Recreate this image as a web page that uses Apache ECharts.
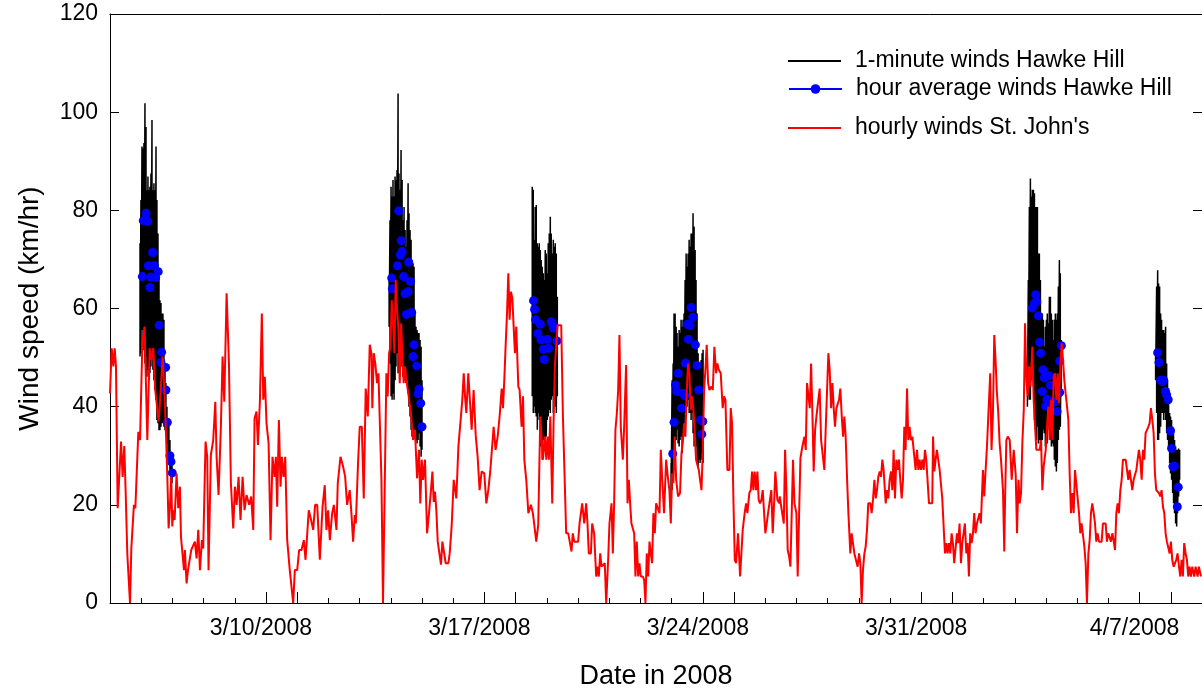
<!DOCTYPE html>
<html>
<head>
<meta charset="utf-8">
<script src="https://cdn.jsdelivr.net/npm/echarts@6.0.0/dist/echarts.min.js"></script>
<style>
html,body{margin:0;padding:0;background:#fff;}
#chart{width:1202px;height:696px;}
</style>
</head>
<body>
<div id="chart"></div>
<script>
// x values are hours since 3/5/2008 00:00
const seriesNames = ['1-minute winds Hawke Hill', 'hour average winds Hawke Hill', "hourly winds St. John's"];
const tickLabels = ['3/10/2008', '3/17/2008', '3/24/2008', '3/31/2008', '4/7/2008'];
const tickLabelHours = [120, 288, 456, 624, 792];
const majorTickHours = [120, 144, 288, 312, 456, 480, 624, 648, 792, 816];

// 1-minute winds Hawke Hill: [hour, upper, lower] of the fast oscillation
const minuteBand1 = [[23.1,73.3,50.2],[23.8,82.1,50.9],[24.6,93.0,55.6],[25.4,92.6,53.6],[26.1,93.7,51.5],[26.9,101.8,48.8],[27.7,97.0,50.2],[28.4,84.1,46.1],[29.2,86.9,47.5],[30.0,84.1,45.4],[30.7,84.8,46.8],[31.5,87.5,48.2],[32.3,98.4,50.2],[33.0,84.1,47.5],[33.8,85.5,45.4],[34.6,84.1,43.4],[35.4,93.0,41.4],[36.1,82.1,37.3],[36.9,75.3,36.6],[37.7,66.5,35.2],[38.4,61.7,35.2],[39.2,61.1,35.9],[40.0,59.0,36.6],[40.7,59.0,36.6],[41.5,57.7,35.9],[42.3,48.2,35.2],[43.0,44.8,34.5],[43.8,40.0,32.5],[44.6,37.3,29.8],[45.3,36.6,28.5],[46.1,33.2,26.4],[46.9,30.5,25.1],[47.7,29.1,24.4]];
const minuteBand2 = [[214.7,65.8,56.3],[215.4,78.0,48.8],[216.2,84.8,42.1],[217.0,82.8,41.4],[217.7,86.2,42.7],[218.5,82.8,41.4],[219.3,86.9,45.4],[220.0,86.2,48.2],[220.8,88.2,50.9],[221.6,103.8,46.8],[222.3,87.5,48.8],[223.1,84.2,46.8],[223.9,92.3,48.2],[224.7,86.2,50.2],[225.4,78.0,46.1],[226.2,80.7,48.2],[227.0,76.0,45.4],[227.7,72.6,44.8],[228.5,78.0,45.4],[229.3,85.5,42.7],[230.0,79.4,40.0],[230.8,76.0,38.0],[231.6,74.0,35.3],[232.3,69.9,33.9],[233.1,69.2,33.9],[233.9,68.5,35.3],[234.6,59.0,34.6],[235.4,56.3,33.2],[236.2,55.6,32.5],[237.0,55.0,33.2],[237.7,55.0,34.6],[238.5,53.6,31.9],[239.3,52.2,29.8],[240.0,45.4,31.2]];
const minuteBand3 = [[324.8,84.8,42.1],[325.6,84.2,38.7],[326.4,74.0,40.0],[327.1,80.7,38.7],[327.9,81.1,38.0],[328.7,73.3,35.3],[329.4,72.6,38.7],[330.2,73.3,37.3],[331.0,71.9,31.9],[331.7,69.9,35.3],[332.5,68.5,29.2],[333.3,67.2,33.2],[334.1,65.8,31.9],[334.8,71.9,33.2],[335.6,71.2,33.9],[336.4,67.2,37.3],[337.1,73.3,38.0],[337.9,75.3,39.3],[338.7,78.7,38.7],[339.4,75.3,41.4],[340.2,71.2,42.1],[341.0,74.0,38.7],[341.7,72.6,41.4],[342.5,73.3,40.0],[343.3,71.2,38.7],[344.1,62.4,42.1]];
const minuteBand4 = [[431.6,28.5,22.4],[432.4,45.4,23.0],[433.2,48.8,25.1],[433.9,59.0,28.5],[434.7,59.0,31.9],[435.5,56.3,33.2],[436.2,55.0,35.3],[437.0,52.2,32.5],[437.8,55.6,31.9],[438.5,55.0,33.2],[439.3,57.7,33.9],[440.1,56.3,30.5],[440.8,57.7,33.2],[441.6,59.0,35.3],[442.4,65.8,38.7],[443.2,71.2,40.0],[443.9,68.5,40.0],[444.7,71.2,41.4],[445.5,74.0,38.7],[446.2,72.6,38.7],[447.0,75.3,37.3],[447.8,75.3,38.7],[448.5,79.4,34.6],[449.3,76.7,31.9],[450.1,71.9,33.2],[450.8,65.8,31.9],[451.6,59.0,28.5],[452.4,50.9,27.8],[453.1,48.8,29.2],[453.9,48.2,28.5],[454.7,49.5,29.2],[455.5,50.9,30.5],[456.2,51.6,28.5]];
const minuteBand5 = [[705.7,48.0,40.0],[706.4,65.8,42.1],[707.2,80.7,41.4],[708.0,86.5,41.4],[708.8,82.8,45.4],[709.5,84.2,52.2],[710.3,84.2,44.1],[711.1,83.5,37.3],[711.8,80.7,35.3],[712.6,80.7,33.2],[713.4,80.7,35.9],[714.1,71.2,32.5],[714.9,71.2,33.2],[715.7,65.8,32.5],[716.4,59.0,31.9],[717.2,59.0,33.2],[718.0,57.7,35.3],[718.7,52.2,34.6],[719.5,56.3,31.9],[720.3,57.7,33.2],[721.0,59.0,32.5],[721.8,57.0,38.7],[722.6,62.4,35.3],[723.4,62.4,33.2],[724.1,59.0,31.9],[724.9,57.7,32.5],[725.7,53.6,31.9],[726.4,57.7,29.2],[727.2,59.0,27.8],[728.0,57.7,26.8],[728.7,59.0,28.5],[729.5,64.5,33.2],[730.3,69.9,35.3],[731.0,67.2,35.9],[731.8,53.6,42.1]];
const minuteBand6 = [[804.3,50.9,45.4],[805.1,64.5,38.7],[805.9,67.8,33.2],[806.6,65.1,33.2],[807.4,64.5,34.6],[808.2,59.0,35.9],[808.9,57.7,38.7],[809.7,55.6,38.7],[810.5,55.6,37.3],[811.2,55.0,38.7],[812.0,56.3,37.3],[812.8,48.8,34.6],[813.5,45.4,33.2],[814.3,42.1,31.2],[815.1,38.7,28.5],[815.8,38.0,26.4],[816.6,37.3,25.1],[817.4,35.9,22.4],[818.1,34.6,20.3],[818.9,33.2,18.3],[819.7,31.9,16.2],[820.5,31.2,15.6],[821.2,31.2,18.3],[822.0,31.5,21.7],[822.8,31.2,25.1]];

// hour average winds Hawke Hill: [hour, value]
const hourAvg1 = [[24.9,66.5],[25.6,77.9],[27.7,79.4],[29.0,77.8],[29.5,68.7],[30.7,64.3],[31.3,66.4],[32.8,71.4],[34.1,68.7],[35.1,66.3],[37.1,67.5],[37.9,56.6],[39.2,49.0],[39.7,51.1],[42.8,48.0],[43.0,43.4],[44.1,36.8],[46.1,30.0],[46.9,28.8],[47.9,26.5]];
const hourAvg2 = [[216.7,66.2],[217.2,64.0],[221.1,68.7],[222.1,79.9],[223.4,70.9],[224.1,73.8],[224.7,71.6],[225.9,66.5],[227.0,63.0],[228.0,58.8],[229.3,63.4],[229.8,69.4],[231.1,65.5],[232.1,59.2],[233.1,50.2],[233.9,52.6],[235.9,48.3],[236.9,42.6],[237.7,43.6],[239.0,40.7],[240.0,35.9]];
const hourAvg3 = [[325.8,61.6],[326.6,59.8],[327.4,57.7],[329.2,54.9],[331.0,56.8],[331.5,53.6],[333.3,51.7],[334.0,49.6],[336.4,53.7],[337.4,51.9],[339.4,57.3],[340.7,56.6],[341.2,56.0],[343.8,53.4]];
const hourAvg4 = [[432.9,30.4],[433.9,36.8],[435.0,44.4],[436.0,43.1],[437.0,46.8],[439.6,39.7],[441.1,42.7],[442.1,42.2],[442.6,48.9],[444.2,56.8],[444.9,53.7],[446.2,56.5],[447.0,60.2],[448.3,58.2],[450.3,52.6],[451.6,48.4],[452.9,43.4],[454.4,37.3],[455.2,34.4],[456.0,37.0]];
const hourAvg5 = [[709.5,60.1],[711.1,61.1],[712.1,62.8],[712.9,61.4],[714.1,58.5],[715.2,53.1],[715.9,50.9],[717.2,43.1],[717.7,47.5],[718.7,45.9],[719.8,40.1],[720.8,41.5],[722.3,46.3],[723.4,44.4],[724.4,40.7],[726.9,41.0],[728.5,39.0],[730.5,42.9],[730.6,49.3],[731.8,52.4]];
const hourAvg6 = [[805.9,51.0],[806.9,49.0],[808.2,45.4],[809.4,45.1],[810.5,45.4],[812.0,43.1],[812.8,42.4],[814.0,41.4],[815.8,35.1],[816.6,31.5],[817.6,27.8],[818.7,27.9],[821.0,19.6],[821.7,23.6]];

// hourly winds St. John's: [hour, value]
const stJohnsA = [[0,42.7],[1.3,51.9],[2.6,48.2],[3.6,51.9],[4.6,48.2],[5.9,19.3],[8.5,32.9],[9.7,25.7],[11,32.0],[12,23.0],[13.3,10.1],[15.4,0],[16.4,11.1],[17.4,11.1],[18.4,20.0],[19.5,19.3],[21.8,34.9],[23.1,33.2],[24.9,52.9],[26.6,56.3],[28.7,33.2],[30.5,51.9],[31.8,49.5],[33.3,51.9],[34.8,43.4],[37.4,37.0],[38.4,40.7],[40.5,50.2],[41.8,43.4],[42.8,36.6],[44.1,25.7],[45.1,15.2],[46.1,19.6],[47.1,25.7],[47.9,15.6],[48.7,18.9],[49.7,16.9],[51.2,26.4],[52.5,19.3],[53.8,23.7],[54.6,13.5],[56.9,6.7],[57.6,10.8],[58.9,4.0],[60,6.7],[61,6.4],[62.5,10.8],[64,11.1],[65.3,12.5],[66.6,9.1],[67.9,14.9],[69.2,6.7],[70.7,12.8],[71.7,11.1],[73.5,32.9],[74.8,29.8],[75.8,6.7],[77.6,30.2],[79.4,33.2],[81,41.0],[82,29.8],[83.5,22.0],[85.3,35.9],[86.6,50.2],[87.9,41.0],[89.7,63.1],[91.5,48.8],[93,24.4],[94.8,15.2],[96.1,23.7],[97.4,20.0],[98.9,25.7],[100.4,16.9],[102,25.7],[103.5,18.9],[105,22.0],[107.1,20.0],[108.6,21.7],[110.2,14.9],[111.2,37.6],[112.7,39.0],[113.8,32.2],[115.3,41.0],[116.8,59.0],[117.9,41.4],[119.1,46.1],[120.4,36.6],[122,32.5],[123.5,12.8],[125,29.8],[126.6,25.7],[127.6,29.8],[128.6,19.6],[129.9,37.3],[131.2,23.7],[132.2,29.8],[133.5,25.7],[134.8,29.8],[136.3,12.8],[138.3,6.7],[139.6,6.7],[140.9,0],[142.2,6.7],[144,6.7],[145.5,10.8],[147.3,10.8],[149.1,12.8],[150.4,8.8],[152.9,18.9],[154.7,16.9],[156.3,14.9],[157.8,20.0],[159.4,20.0],[161.4,8.8],[163.5,19.6],[165.2,24.0],[166.5,14.9],[167.8,18.9],[169.1,12.8],[170.9,18.3],[172.2,20.0],[174.2,14.9],[175.2,24.4],[177.3,29.8],[179.3,27.8],[180.9,25.7],[182.4,20.0]];
const stJohnsB = [[184.4,23.0],[185.7,18.3],[187,12.5],[188.3,17.9],[189.1,16.2],[190.8,28.5],[192.1,35.9],[193.7,35.9],[195.2,21.3],[196.7,43.7],[198.3,38.0],[199.8,52.6],[201.1,50.9],[201.8,39.7],[202.9,50.9],[204.2,48.5],[205.4,44.8],[206.5,46.8],[207.5,46.8],[208.8,25.1],[210,0],[211.3,23.0],[212.6,46.8],[213.6,42.1],[214.7,50.9],[215.7,52.2],[216.7,61.7],[217.7,57.0],[218.8,50.9],[219.8,65.8],[220.8,59.7],[221.8,56.3],[222.9,44.8],[223.9,57.0],[224.9,50.2],[225.9,44.8],[227,48.2],[228,45.4],[230,41.7],[231.6,38.3],[233.1,33.2],[234.6,35.3],[236.2,25.4],[237.7,31.2],[238.7,20.3],[239.8,29.2],[240.8,25.1],[242.3,29.2],[243.9,14.2],[245.4,18.3],[246.9,23.0],[248,26.8],[249,20.6],[250,22.7],[251,19.0],[252.1,12.5],[253.6,12.2],[254.6,7.8],[255.7,12.5],[256.7,12.2],[258.2,8.1],[260.3,8.1],[261.3,10.1],[262.8,15.6],[264.4,25.1],[266.4,21.3],[268,31.9],[269.5,36.6],[271,41.4],[272.1,46.8],[273.1,42.1],[274.1,38.7],[275.6,46.8],[276.7,46.8],[278.2,35.3],[279.7,43.4],[281.3,34.2],[282.8,29.8],[284.3,23.0],[285.9,26.8],[287.9,26.4],[289.5,20.3],[291,23.0],[292.5,26.8],[293.6,27.1],[295.1,35.9],[296.6,31.2],[298.2,33.9],[299.7,38.0],[301.3,43.7],[302.3,39.7],[303.3,45.4],[304.3,52.2],[305.4,59.0],[306.4,67.2],[307.4,57.7],[308.4,63.4],[309.5,62.1],[310.5,56.3],[311.5,50.9],[312.5,56.3],[314.1,44.1],[315.1,43.4],[316.6,35.9],[317.7,42.1],[318.7,29.2],[320.2,25.1],[321.8,18.3],[322.8,17.9],[323.8,20.0],[325.3,18.3],[327.9,12.5],[329.4,15.9],[331,38.0],[332,33.9],[333,29.2],[334.6,33.9],[335.6,29.2],[336.6,33.9],[337.6,29.2],[338.7,38.0],[340.2,20.3],[341.2,36.6],[342.2,48.2],[343.3,48.2],[344.3,56.6],[345.8,56.6],[347.1,56.6]];
const stJohnsC = [[348.4,38.0],[349.4,38.0],[350.9,14.2],[352.5,14.2],[354,14.2],[355,10.5],[356,14.2],[357.1,12.5],[360.1,12.5],[361.2,16.2],[362.2,16.2],[363.2,20.3],[364.8,16.2],[366.3,20.3],[367.3,16.2],[368.3,10.1],[369.9,10.1],[370.9,16.2],[372.4,14.2],[374,5.4],[375,7.4],[376,5.4],[377.1,10.1],[378.1,7.4],[379.6,7.8],[380.6,8.1],[381.7,0],[383.2,8.8],[384.2,16.2],[385.8,20.3],[386.8,10.1],[387.8,20.3],[388.8,35.3],[389.9,38.7],[390.9,43.4],[391.9,54.6],[392.9,35.9],[394.5,29.2],[395.5,35.9],[397,48.5],[398.1,20.3],[399.1,25.1],[400.1,20.3],[401.1,16.2],[402.2,16.2],[403.2,14.2],[404.2,5.4],[405.2,12.5],[406.3,5.4],[407.3,8.1],[408.3,5.4],[409.9,5.4],[410.9,4.7],[411.9,0],[412.9,10.1],[414,5.4],[415,12.5],[416,10.1],[417,8.1],[418,18.3],[419.1,14.2],[420.1,20.3],[421.6,20.3],[422.7,18.3],[423.7,31.2],[424.7,25.7],[426.2,18.3],[427.8,29.2],[428.8,26.4],[430.3,23.0],[431.4,16.2],[432.4,26.4],[433.4,24.4],[434.4,33.9],[435.5,25.1],[437,21.7],[438.5,22.4],[439.6,30.5],[440.6,32.6],[441.6,36.6],[442.6,33.9],[443.7,43.4],[444.7,48.8],[445.7,46.8],[446.7,39.3],[447.8,42.1],[448.8,39.3],[449.8,34.6],[450.8,29.2],[451.9,29.2],[452.9,27.1],[453.9,25.1],[455,23.0],[456,31.2],[457,43.4],[458,47.5],[459,52.6],[460.1,44.8],[461.1,43.4],[462.6,44.1],[463.7,43.4],[464.9,52.2],[466.2,46.8],[467.2,48.8],[468.3,47.5],[469.8,46.8],[471.3,39.7],[472.4,42.1],[473.4,41.4],[474.9,27.1],[476.5,27.1],[477.5,39.7],[478.5,36.6],[479.5,21.7],[480.6,8.8],[481.6,8.1],[483.1,14.2],[484.7,5.4],[485.7,10.1],[486.7,14.9],[488.2,18.3],[489.3,20.3],[490.3,18.3],[491.8,22.4],[492.9,23.0],[493.9,26.8],[494.9,23.0],[495.9,26.8],[497,23.0],[498,26.8],[499,21.0],[500,20.3],[501.1,21.0],[502.1,23.0],[503.1,23.0],[504.1,14.2],[505.2,16.2],[506.2,18.3],[507.2,18.3],[508.7,23.0],[509.8,14.2],[510.8,20.0],[511.8,26.8],[513.4,21.0],[514.9,20.3]];
const stJohnsD = [[515.2,21.7],[516.7,19.0],[518.3,16.2],[519.3,31.2],[520.3,23.0],[521.3,10.8],[522.4,9.5],[523.4,7.4],[524.4,18.3],[525.4,29.2],[526.5,20.3],[528,18.3],[529,5.4],[530.1,18.3],[531.1,29.5],[532.6,31.9],[534.2,33.9],[535.2,31.2],[536.2,44.8],[537.2,44.8],[538.3,39.7],[539.3,48.8],[540.3,38.7],[541.3,26.8],[542.4,35.3],[543.4,38.0],[544.9,38.0],[545.9,43.7],[547,33.2],[548.5,32.9],[549.5,27.1],[550.6,35.9],[551.6,35.9],[552.6,50.9],[553.6,47.5],[554.7,39.7],[555.7,44.8],[556.7,39.7],[557.7,35.9],[558.8,39.7],[559.8,39.7],[560.8,41.4],[561.8,43.7],[562.9,38.0],[563.9,33.9],[564.9,38.0],[565.9,33.9],[567,25.1],[568,18.3],[569.5,10.1],[570.5,14.2],[571.6,14.2],[572.6,10.1],[574.1,10.1],[575.1,7.4],[576.2,10.1],[577.2,8.1],[578.2,0],[579.2,6.7],[580.3,10.1],[581.3,11.5],[582.3,14.9],[583.3,20.3],[584.9,20.3],[585.9,18.3],[586.9,21.0],[588,25.1],[589,21.3],[590,23.0],[591,25.7],[592.1,26.8],[593.1,25.7],[594.1,29.2],[595.1,27.1],[596.7,20.3],[597.7,23.0],[598.7,21.3],[599.7,25.1],[600.8,26.8],[601.8,23.0],[602.8,31.2],[603.8,21.3],[604.9,29.2],[605.9,27.1],[606.9,29.2],[607.9,25.1],[609,21.3],[610,25.1],[611,35.9],[612,31.2],[613.1,43.7],[614.1,33.2],[615.1,35.9],[616.1,33.2],[617.2,33.9],[618.2,31.2],[619.7,27.1],[620.8,31.2],[621.8,27.1],[622.8,29.2],[623.8,27.1],[624.9,29.2],[625.9,27.1],[626.9,31.2],[627.9,29.2],[629,29.2],[630,20.3],[631.5,20.3],[632.5,20.3],[633.1,33.9],[634.1,26.8],[635.1,29.2],[636.1,31.2],[637.1,29.2],[638.2,27.1],[639.2,27.1],[640.2,21.3],[641.2,21.3],[642.3,10.1],[643.3,12.2],[644.3,10.1],[645.3,12.2],[646.4,10.1],[647.4,14.2],[648.4,12.2],[649.4,8.1],[650.5,8.1],[651.5,14.2],[652.5,12.2],[653.5,16.2],[654.6,8.1],[655.6,12.2],[656.6,14.2],[657.6,16.2],[658.7,10.1],[659.7,12.2],[660.7,5.4],[661.7,14.2],[662.8,12.2],[663.8,14.2],[664.8,18.3],[665.8,14.2],[666.9,16.2],[667.9,16.2],[668.9,18.3],[669.9,16.2],[671.5,27.1],[672.5,21.7],[673.5,26.8],[674.6,31.9],[675.6,38.0],[677.1,46.8],[678.1,31.2],[679.2,38.7],[680.2,54.6],[681.2,49.5],[682.2,43.1],[683.3,38.7],[684.3,32.6],[685.3,29.5],[686.9,23.0],[687.9,10.5]];
const stJohnsE = [[688.5,21.0],[689.5,33.2],[690.6,33.9],[692.1,33.2],[693.6,25.1],[695.2,31.2],[696.7,26.1],[697.7,14.2],[698.8,25.1],[699.8,20.3],[700.8,22.4],[701.8,32.6],[702.9,39.3],[703.9,57.0],[704.9,45.4],[705.9,42.1],[707,48.2],[708,44.1],[709.5,52.2],[710.5,41.4],[711.6,35.9],[712.6,31.2],[714.1,31.2],[715.2,31.2],[716.2,33.2],[717.2,23.0],[718.2,27.8],[719.8,31.2],[720.8,35.9],[721.8,40.0],[722.8,33.2],[723.9,41.4],[724.9,33.2],[725.9,46.1],[726.9,46.8],[728,41.4],[729,46.8],[730,40.7],[731,48.2],[732.1,52.9],[733.1,49.5],[734.1,45.4],[735.1,42.7],[736.2,40.0],[737.2,37.3],[738.2,26.4],[739.2,18.3],[740.3,22.4],[741.3,18.3],[742.3,27.1],[743.3,24.4],[744.4,24.4],[745.4,18.3],[746.4,14.2],[747.4,16.2],[748.5,16.2],[749.5,11.5],[750.5,8.1],[751.5,0],[752.6,10.1],[753.6,12.8],[754.6,18.3],[755.6,20.3],[756.7,18.3],[757.7,16.2],[758.7,12.5],[759.7,14.2],[760.8,12.5],[762.8,12.5],[763.8,16.2],[765.9,16.2],[766.9,12.5],[767.9,14.2],[770,12.5],[771,14.2],[772,12.8],[773.1,10.8],[774.1,18.3],[775.1,20.3],[776.1,18.3],[777.2,23.0],[778.2,25.1],[779.2,29.2],[781.3,29.2],[782.3,27.1],[783.3,25.1],[784.3,27.1],[785.4,27.1],[786.4,23.0],[787.4,25.1],[788.4,25.1],[789.5,27.1],[790.5,29.2],[791.5,31.2],[792.5,29.2],[793.6,25.1],[794.6,31.2],[795.6,29.2],[796.6,34.6],[797.7,34.6],[798.7,35.9],[799.7,36.6],[800.7,39.7],[801.8,37.3],[802.8,34.6],[803.8,26.4],[804.8,23.0],[805.9,23.0],[806.9,22.4],[807.9,21.7],[808.9,23.0],[810,19.6],[811,18.3],[812,14.2],[813,12.5],[814.1,12.5],[815.1,10.1],[816.1,12.5],[817.1,8.8],[818.2,7.4],[820.2,8.8],[821.2,10.1],[822.3,7.4],[823.3,5.4],[824.3,8.8],[825.3,5.4],[826.3,12.2],[827.4,10.1],[828.4,8.8],[829.4,5.4],[830.4,7.4],[831.5,5.4],[832.5,7.4],[834,5.4],[835.1,7.4],[836.6,5.4],[837.6,7.4],[839.2,5.4]];

// ---- build series data from the arrays above ----
const minuteBands = [minuteBand1, minuteBand2, minuteBand3, minuteBand4, minuteBand5, minuteBand6];
const minuteData = [];
minuteBands.forEach(function (band) {
  band.forEach(function (p) { minuteData.push([p[0], p[1]]); minuteData.push([p[0], p[2]]); });
  minuteData.push([band[band.length - 1][0] + 0.5, null]);
});
const hourAvgData = [].concat(hourAvg1, hourAvg2, hourAvg3, hourAvg4, hourAvg5, hourAvg6);
const stJohnsData = [].concat(stJohnsA, stJohnsB, stJohnsC, stJohnsD, stJohnsE);

const dayTicks = [];
for (let h = 0; h <= 840; h += 24) dayTicks.push(h);

const FONT = 'Liberation Sans, Arial, sans-serif';
const chart = echarts.init(document.getElementById('chart'), null, { renderer: 'canvas' });

function legendFor(name, top, extra) {
  return Object.assign({
    data: [name], left: 788, top: top, orient: 'horizontal', padding: 0,
    itemWidth: 53, itemHeight: 12, selectedMode: false,
    textStyle: { color: '#000', fontSize: 23, fontFamily: FONT, lineHeight: 24, padding: [0, 0, 0, 9] }
  }, extra || {});
}

chart.setOption({
  animation: false,
  backgroundColor: '#fff',
  grid: { left: 110, right: 0, top: 14, bottom: 93, containLabel: false },
  legend: [
    legendFor(seriesNames[0], 49, { icon: 'rect', itemHeight: 2, itemStyle: { color: '#000' } }),
    legendFor(seriesNames[1], 77, { lineStyle: { width: 2, opacity: 1, color: '#0000ff' } }),
    legendFor(seriesNames[2], 116, { icon: 'rect', itemHeight: 2, itemStyle: { color: '#ff0000' } })
  ],
  xAxis: [
    {
      type: 'value', min: 0, max: 840, interval: 24, position: 'bottom',
      axisLine: { show: true, onZero: false, lineStyle: { color: '#000', width: 1 } },
      axisTick: { show: true, inside: true, length: 5, customValues: dayTicks, lineStyle: { color: '#000', width: 1 } },
      axisLabel: {
        show: true, customValues: tickLabelHours, margin: 14, color: '#000', fontSize: 23, fontFamily: FONT,
        padding: [0, 10, 0, 0],
        formatter: function (v) { const i = tickLabelHours.indexOf(v); return i >= 0 ? tickLabels[i] : ''; }
      },
      splitLine: { show: false },
      name: 'Date in 2008', nameLocation: 'middle', nameGap: 60,
      nameTextStyle: { color: '#000', fontSize: 27, fontFamily: FONT }
    },
    {
      type: 'value', min: 0, max: 840, position: 'bottom',
      axisLine: { show: false },
      axisTick: { show: true, inside: true, length: 11, customValues: majorTickHours, lineStyle: { color: '#000', width: 1 } },
      axisLabel: { show: false }, splitLine: { show: false }
    },
    {
      type: 'value', min: 0, max: 840, interval: 24, position: 'top',
      axisLine: { show: true, onZero: false, lineStyle: { color: '#000', width: 1 } },
      axisTick: { show: false },
      axisLabel: { show: false }, splitLine: { show: false }
    }
  ],
  yAxis: [
    {
      type: 'value', min: 0, max: 120, interval: 20, position: 'left',
      axisLine: { show: true, onZero: false, lineStyle: { color: '#000', width: 1 } },
      axisTick: { show: true, inside: true, length: 9, lineStyle: { color: '#000', width: 1 } },
      axisLabel: { margin: 12, color: '#000', fontSize: 23, fontFamily: FONT },
      splitLine: { show: false },
      name: 'Wind speed (km/hr)', nameLocation: 'middle', nameGap: 66, nameRotate: 90,
      nameTextStyle: { color: '#000', fontSize: 28, fontFamily: FONT }
    },
    {
      type: 'value', min: 0, max: 120, interval: 20, position: 'right',
      axisLine: { show: true, onZero: false, lineStyle: { color: '#000', width: 1 } },
      axisTick: { show: true, inside: true, length: 9, lineStyle: { color: '#000', width: 1 } },
      axisLabel: { show: false }, splitLine: { show: false }
    }
  ],
  series: [
    {
      name: seriesNames[0], type: 'line', xAxisIndex: 0, yAxisIndex: 0,
      data: minuteData, showSymbol: false, symbol: 'none', connectNulls: false,
      lineStyle: { color: '#000', width: 1.5 }, itemStyle: { color: '#000' }, z: 2
    },
    {
      name: seriesNames[1], type: 'line', xAxisIndex: 0, yAxisIndex: 0,
      data: hourAvgData, symbol: 'circle', symbolSize: 9, showSymbol: true,
      lineStyle: { color: '#0000ff', width: 2, opacity: 0 }, itemStyle: { color: '#0000ff' }, z: 3
    },
    {
      name: seriesNames[2], type: 'line', xAxisIndex: 0, yAxisIndex: 0,
      data: stJohnsData, showSymbol: false, symbol: 'none',
      lineStyle: { color: '#ff0000', width: 2 }, itemStyle: { color: '#ff0000' }, z: 4
    }
  ]
});
</script>
</body>
</html>
